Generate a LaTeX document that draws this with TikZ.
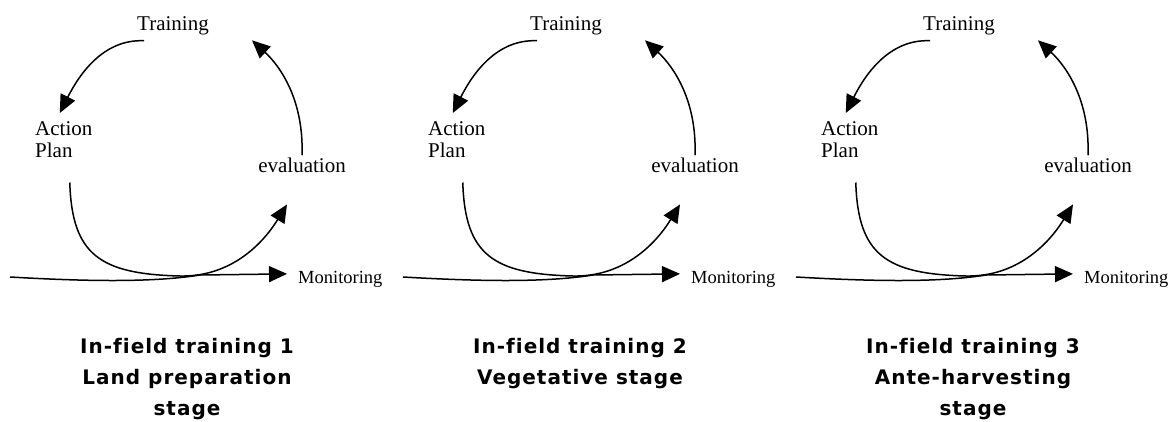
\documentclass[tikz,border=0pt]{standalone}
\usepackage{fontspec}
\setmainfont{Liberation Serif}
\newfontfamily\capfont[LetterSpace=5,Ligatures=NoCommon]{DejaVu Sans}
\usetikzlibrary{arrows.meta}
\tikzset{
  lbl/.style={inner sep=0pt, font=\fontsize{21}{22}\selectfont},
  mon/.style={inner sep=0pt, font=\fontsize{18.5}{20}\selectfont},
  stagecap/.style={inner sep=0pt, align=center, font=\capfont\bfseries\fontsize{20}{31}\selectfont},
  flow/.style={line width=1.5pt, -{Triangle[length=18pt,width=16pt]}},
}
\begin{document}
\begin{tikzpicture}[x=1pt, y=-1pt]
	\useasboundingbox (0,0) rectangle (1175,421);
	\foreach \i/\stage in {0/{In-field training 1\\Land preparation\\stage},
		1/{In-field training 2\\Vegetative stage},
		2/{In-field training 3\\Ante-harvesting\\stage}}{
		\begin{scope}[shift={(\i*393,0)}]
			\node[lbl, anchor=base] (train\i) at (173,30) {Training};
			\node[lbl, anchor=north west, align=left] (plan\i) at (35,121) {Action\\Plan};
			\node[lbl, anchor=base] (eval\i) at (302,172) {evaluation};
			\node[mon, anchor=base west] (mon\i) at (298,283) {Monitoring};
			\node[stagecap, anchor=north] (stage\i) at (187,338) {\stage};
			\coordinate (in\i) at (10,277);

			\draw[flow] ([shift={(7,6)}]train\i.south west) .. controls (104,39) and (80,73) .. ([shift={(-4,-8)}]plan\i.north);
			\draw[flow] ([shift={(0,-2)}]eval\i.north) .. controls (304,100) and (280,66) .. ([shift={(43,15)}]train\i.east);
			\draw[flow] ([shift={(6,25)}]plan\i.south) .. controls (72,255) and (100,274) .. (180,276)
				.. controls (230,277) and (262,245) .. ([shift={(-15,32)}]eval\i.south);
			\draw[flow] (in\i) .. controls (80,281) and (150,283) .. (200,275) -- ([shift={(-11,-5)}]mon\i.west);
		\end{scope}
	}
\end{tikzpicture}
\end{document}
